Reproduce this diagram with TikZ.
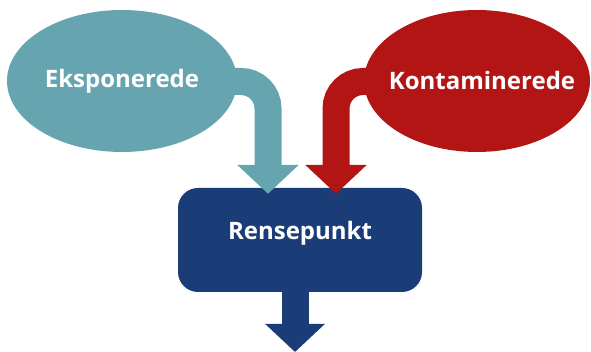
\documentclass[tikz,border=0pt]{standalone}
\usepackage{fontspec}
\setmainfont{Open Sans}
\usetikzlibrary{shapes.geometric,arrows.meta,backgrounds}
\definecolor{cteal}{HTML}{66A5AF}
\definecolor{cred}{HTML}{B31515}
\definecolor{cnavy}{HTML}{1A3D78}
\tikzset{
  lbl/.style={text=white, font=\fontsize{24}{28}\selectfont\bfseries},
  blob/.style={ellipse, minimum height=142pt, inner sep=0pt, lbl},
  flow/.style={line width=27pt, rounded corners=27pt,
    -{Triangle[width=60pt,length=29pt]}},
}
\begin{document}
\begin{tikzpicture}[x=1pt,y=1pt]
\useasboundingbox (0,0) rectangle (591,352);
\node[blob, fill=cteal, minimum width=230pt] (e) at (122,271) {Eksponerede};
\node[blob, fill=cred, minimum width=226pt,
  label={[lbl,xshift=5pt]center:Kontaminerede}] (k) at (477,271) {};
\begin{scope}[on background layer]
\node[fill=cnavy, rounded corners=20pt, minimum width=244pt, minimum height=104pt,
  label={[lbl,yshift=7pt]center:Rensepunkt}]
  (r) at (300,112) {};
\coordinate (out) at (295,0);
\draw[flow, cnavy, -{Triangle[width=58pt,length=28pt]}] ([xshift=-5pt]r.south) -- (out);
\draw[flow, cteal] ([yshift=-0.5pt]e.center) -| ([xshift=-32pt,yshift=-6pt]r.north);
\draw[flow, cred] ([yshift=-0.5pt]k.center) -| ([xshift=36pt,yshift=-6pt]r.north);
\end{scope}
\end{tikzpicture}
\end{document}
